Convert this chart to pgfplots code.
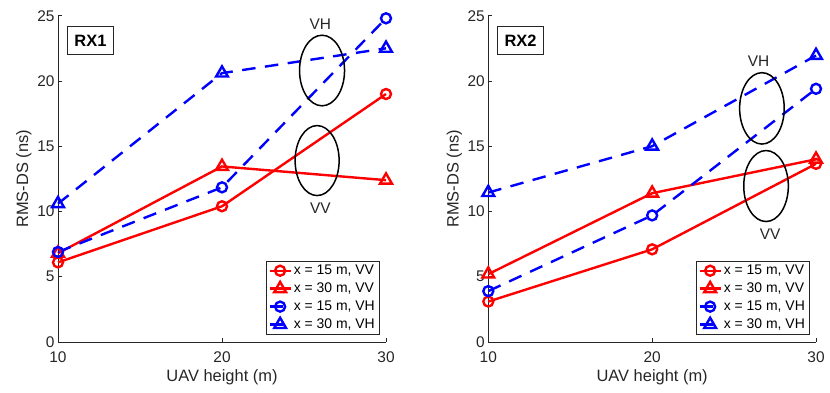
\documentclass[border=0pt]{standalone}
\usepackage{pgfplots}
\pgfplotsset{compat=1.18}
\usepackage{fontspec}
\setmainfont{Liberation Sans}
\definecolor{axgray}{rgb}{0.15,0.15,0.15}
\begin{document}
\begin{tikzpicture}[x=1bp,y=1bp]
\useasboundingbox (0,0) rectangle (830,392);
\pgfplotsset{
 myax/.style={
  scale only axis, width=328bp, height=326.3bp,
  xmin=10,xmax=30,ymin=0,ymax=25,
  xtick={10,20,30}, ytick={0,5,...,25},
  axis x line*=bottom, axis y line*=left,
  axis line style={axgray, line width=0.6bp, -},
  tick style={axgray, line width=0.6bp},
  tick align=inside, major tick length=4bp,
  tick label style={font=\fontsize{15.5}{18}\selectfont, color=axgray},
  xticklabel style={yshift=-6bp},
  /pgf/number format/assume math mode=true,
  label style={font=\fontsize{16.5}{19}\selectfont, color=axgray},
  xlabel={UAV height (m)}, ylabel={RMS-DS (ns)},
  x label style={at={(axis description cs:0.5,-0.1073)}, anchor=center},
  y label style={at={(axis description cs:-0.1037,0.5)}, anchor=center},
  clip=false,
  legend style={at={(0.9796,0.2492)}, anchor=north east, draw=axgray, line width=0.6bp,
    font=\fontsize{14}{16}\selectfont, inner sep=2.2bp, row sep=2.8bp, cells={anchor=west}, text=black},
  legend image code/.code={\draw[mark repeat=2,mark phase=2,##1] plot coordinates {(0bp,0bp) (10.5bp,0bp) (21bp,0bp)};},
 },
 rc/.style={color=red, line width=2.4bp, mark=o, mark size=5bp, mark options={solid, fill=none}},
 rt/.style={color=red, line width=2.4bp, mark=triangle, mark size=6.8bp, mark options={solid, fill=none}},
 bc/.style={color=blue, line width=2.4bp, dash pattern=on 13.5bp off 9.5bp, mark=o, mark size=5bp, mark options={solid, fill=none}},
 bt/.style={color=blue, line width=2.4bp, dash pattern=on 13.5bp off 9.5bp, mark=triangle, mark size=6.8bp, mark options={solid, fill=none}},
}
\begin{axis}[myax, at={(58bp,50bp)}, anchor=south west]
\addplot[rc] coordinates {(10,6.1) (20,10.4) (30,19.0)};
\addplot[rt] coordinates {(10,6.8) (20,13.45) (30,12.4)};
\addplot[bc] coordinates {(10,6.9) (20,11.85) (30,24.8)};
\addplot[bt] coordinates {(10,10.6) (20,20.6) (30,22.5)};
\legend{{x = 15 m, VV}, {x = 30 m, VV}, {x = 15 m, VH}, {x = 30 m, VH}}
\draw[black, line width=1.5bp] (axis cs:26.1,20.8) ellipse [x radius=22.5bp, y radius=35.3bp];
\draw[black, line width=1.5bp] (axis cs:25.8,13.9) ellipse [x radius=22bp, y radius=35bp];
\node[font=\fontsize{15.5}{18}\selectfont, text=black!85] at (axis cs:26.0,24.35) {VH};
\node[font=\fontsize{15.5}{18}\selectfont, text=black!85] at (axis cs:26.0,10.25) {VV};
\node[draw=axgray, fill=white, line width=0.6bp, font=\bfseries\fontsize{16.5}{19}\selectfont, minimum width=45.6bp, minimum height=28.3bp, inner sep=0pt] at (axis cs:11.98,23.1) {RX1};
\end{axis}
\begin{axis}[myax, at={(488.3bp,50bp)}, anchor=south west, width=327.7bp]
\addplot[rc] coordinates {(10,3.1) (20,7.1) (30,13.65)};
\addplot[rt] coordinates {(10,5.2) (20,11.4) (30,14.0)};
\addplot[bc] coordinates {(10,3.9) (20,9.7) (30,19.4)};
\addplot[bt] coordinates {(10,11.45) (20,15.0) (30,21.95)};
\legend{{x = 15 m, VV}, {x = 30 m, VV}, {x = 15 m, VH}, {x = 30 m, VH}}
\draw[black, line width=1.5bp] (axis cs:26.7,17.9) ellipse [x radius=22.3bp, y radius=35.7bp];
\draw[black, line width=1.5bp] (axis cs:26.95,11.95) ellipse [x radius=22.3bp, y radius=35.5bp];
\node[font=\fontsize{15.5}{18}\selectfont, text=black!85] at (axis cs:26.5,21.55) {VH};
\node[font=\fontsize{15.5}{18}\selectfont, text=black!85] at (axis cs:27.2,8.25) {VV};
\node[draw=axgray, fill=white, line width=0.6bp, font=\bfseries\fontsize{16.5}{19}\selectfont, minimum width=45.6bp, minimum height=28.3bp, inner sep=0pt] at (axis cs:11.97,23.1) {RX2};
\end{axis}
\end{tikzpicture}
\end{document}
